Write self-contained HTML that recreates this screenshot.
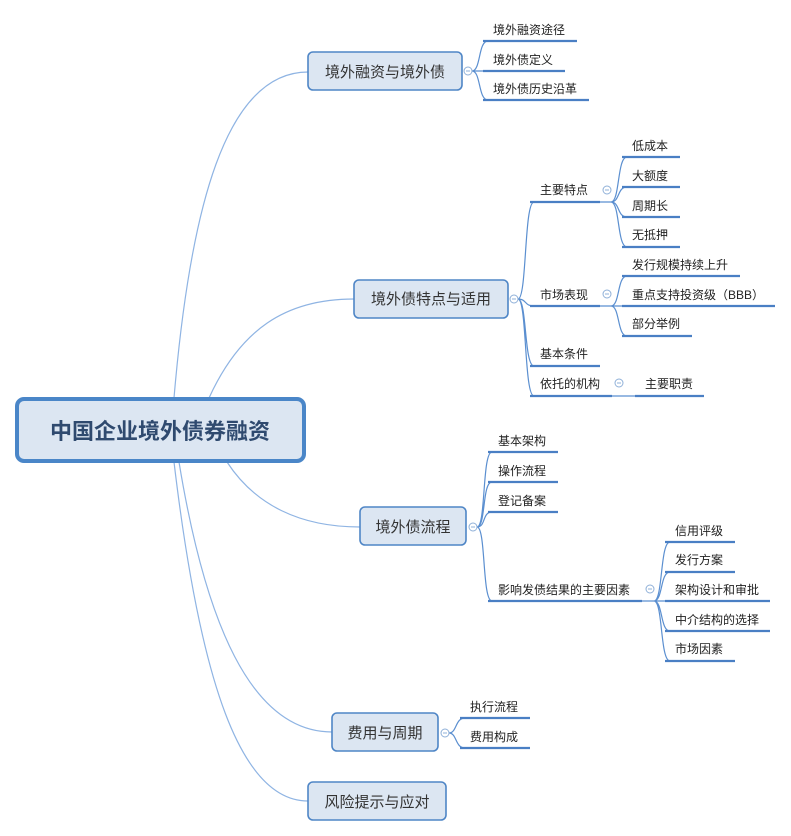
<!DOCTYPE html>
<html><head><meta charset="utf-8"><style>
html,body{margin:0;padding:0;background:#fff;}
svg{display:block;}
text{font-family:"Liberation Sans","Noto Sans CJK SC",sans-serif;fill:#222;}
.c{font-size:12px;}
.m{font-size:15px;fill:#333;}
.ul{stroke:#4a7fc4;stroke-width:2.2;fill:none;}
.br{stroke:#5b8fd0;stroke-width:1.2;fill:none;}
.rt{stroke:#8fb4e3;stroke-width:1.2;fill:none;}
.bx{fill:#dce6f2;stroke:#4f86c6;stroke-width:1.6;}
.ci{fill:#fff;stroke:#8fb0d8;stroke-width:1;}
.mi{stroke:#8fb0d8;stroke-width:1;}
</style></head><body>
<svg width="791" height="836" viewBox="0 0 791 836" xmlns="http://www.w3.org/2000/svg">
<path class="rt" d="M174,398 C190,210 225,72 308,72"/>
<path class="rt" d="M209,398 C240,330 285,299 354,299"/>
<path class="rt" d="M227,462 C255,505 300,527 360,527"/>
<path class="rt" d="M179,462 C205,620 250,732 332,732"/>
<path class="rt" d="M174,462 C200,680 240,801 308,801"/>

<rect x="17" y="399" width="287" height="62" rx="7" fill="#dce6f2" stroke="#4a86c8" stroke-width="4"/>
<text x="160" y="439" text-anchor="middle" font-size="22" font-weight="bold" style="fill:#2f4a6f">中国企业境外债券融资</text>

<path class="br" d="M472,71 C481,71 478,41 488,41 M472,71 H488 M472,71 C481,71 478,100 488,100"/>
<path class="ul" d="M483,41H577 M483,71H565 M483,100H589"/>
<rect class="bx" x="308" y="52" width="154" height="38" rx="5"/>
<text class="m" x="385" y="77" text-anchor="middle">境外融资与境外债</text>
<circle class="ci" cx="468" cy="71" r="4"/><path class="mi" d="M466,71H470"/>
<text class="c" x="493" y="34">境外融资途径</text>
<text class="c" x="493" y="64">境外债定义</text>
<text class="c" x="493" y="93">境外债历史沿革</text>

<path class="br" d="M518,299 C527,299 524,202 534,202 M518,299 C527,299 524,306 534,306 M518,299 C527,299 524,366 534,366 M518,299 C527,299 524,396 534,396"/>
<path class="ul" d="M530,202H600 M530,306H600 M530,366H600 M530,396H612"/>
<path class="br" d="M600,202H611 C620,202 617,157 627,157 M611,202 C620,202 617,187 627,187 M611,202 C620,202 617,217 627,217 M611,202 C620,202 617,247 627,247"/>
<path class="br" d="M600,306H611 C620,306 617,276 627,276 M611,306 H627 M611,306 C620,306 617,336 627,336"/>
<path class="br" d="M612,396H635"/>
<path class="ul" d="M622,157H680 M622,187H680 M622,217H680 M622,247H680 M622,276H740 M622,306H775 M622,336H692 M635,396H704"/>
<rect class="bx" x="354" y="280" width="154" height="38" rx="5"/>
<text class="m" x="431" y="304" text-anchor="middle">境外债特点与适用</text>
<circle class="ci" cx="514" cy="299" r="4"/><path class="mi" d="M512,299H516"/>
<circle class="ci" cx="607" cy="190" r="4"/><path class="mi" d="M605,190H609"/>
<circle class="ci" cx="607" cy="294" r="4"/><path class="mi" d="M605,294H609"/>
<circle class="ci" cx="619" cy="383" r="4"/><path class="mi" d="M617,383H621"/>
<text class="c" x="540" y="194">主要特点</text>
<text class="c" x="540" y="299">市场表现</text>
<text class="c" x="540" y="358">基本条件</text>
<text class="c" x="540" y="388">依托的机构</text>
<text class="c" x="632" y="150">低成本</text>
<text class="c" x="632" y="180">大额度</text>
<text class="c" x="632" y="210">周期长</text>
<text class="c" x="632" y="239">无抵押</text>
<text class="c" x="632" y="269">发行规模持续上升</text>
<text class="c" x="632" y="299">重点支持投资级（BBB）</text>
<text class="c" x="632" y="328">部分举例</text>
<text class="c" x="645" y="388">主要职责</text>

<path class="br" d="M477,527 C486,527 482,452 492,452 M477,527 C486,527 482,482 492,482 M477,527 C486,527 482,512 492,512 M477,527 C486,527 482,601 492,601"/>
<path class="ul" d="M488,452H558 M488,482H558 M488,512H558 M488,601H642"/>
<path class="br" d="M642,601H654 C663,601 660,542 670,542 M654,601 C663,601 660,572 670,572 M654,601 H670 M654,601 C663,601 660,631 670,631 M654,601 C663,601 660,661 670,661"/>
<path class="ul" d="M665,542H735 M665,572H735 M665,601H770 M665,631H770 M665,661H735"/>
<rect class="bx" x="360" y="507" width="106" height="38" rx="5"/>
<text class="m" x="413" y="532" text-anchor="middle">境外债流程</text>
<circle class="ci" cx="473" cy="527" r="4"/><path class="mi" d="M471,527H475"/>
<circle class="ci" cx="650" cy="589" r="4"/><path class="mi" d="M648,589H652"/>
<text class="c" x="498" y="445">基本架构</text>
<text class="c" x="498" y="475">操作流程</text>
<text class="c" x="498" y="505">登记备案</text>
<text class="c" x="498" y="594">影响发债结果的主要因素</text>
<text class="c" x="675" y="535">信用评级</text>
<text class="c" x="675" y="564">发行方案</text>
<text class="c" x="675" y="594">架构设计和审批</text>
<text class="c" x="675" y="624">中介结构的选择</text>
<text class="c" x="675" y="653">市场因素</text>

<path class="br" d="M449,733 C457,733 455,718 465,718 M449,733 C457,733 455,748 465,748"/>
<path class="ul" d="M460,718H530 M460,748H530"/>
<rect class="bx" x="332" y="713" width="106" height="38" rx="5"/>
<text class="m" x="385" y="738" text-anchor="middle">费用与周期</text>
<circle class="ci" cx="445" cy="733" r="4"/><path class="mi" d="M443,733H447"/>
<text class="c" x="470" y="711">执行流程</text>
<text class="c" x="470" y="741">费用构成</text>

<rect class="bx" x="308" y="782" width="138" height="38" rx="5"/>
<text class="m" x="377" y="807" text-anchor="middle">风险提示与应对</text>
</svg>
</body></html>
